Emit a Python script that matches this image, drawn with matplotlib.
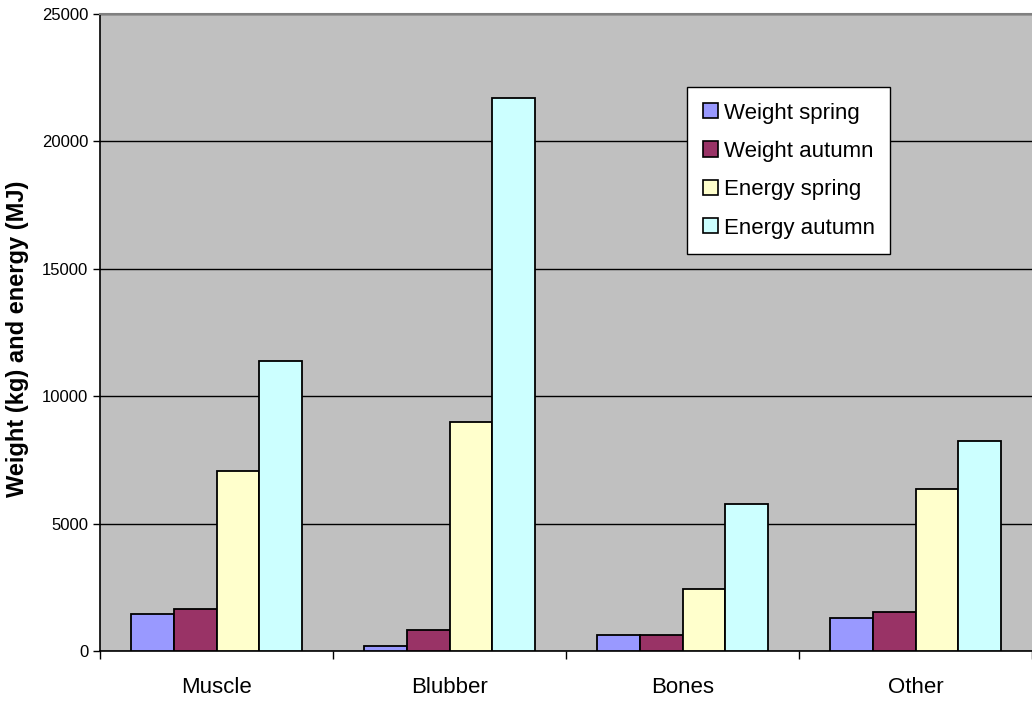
import numpy as np
import matplotlib
matplotlib.use("Agg")
import matplotlib.pyplot as plt

plt.rcParams["font.family"] = ["Liberation Sans", "DejaVu Sans"]

tissues = ["Muscle", "Blubber", "Bones", "Other"]
weight_spring = [1450, 210, 620, 1280]
weight_autumn = [1630, 820, 620, 1520]
energy_spring = [7070, 8970, 2420, 6350]
energy_autumn = [11390, 21700, 5760, 8260]

series = [
    ("Weight spring", weight_spring, "#9999FF"),
    ("Weight autumn", weight_autumn, "#993366"),
    ("Energy spring", energy_spring, "#FFFFCC"),
    ("Energy autumn", energy_autumn, "#CCFFFF"),
]

fig = plt.figure(figsize=(10.32, 7.02), dpi=100)
ax = fig.add_axes([100 / 1032, 51 / 702, 932 / 1032, 637 / 702])
ax.set_facecolor("#C0C0C0")

x = np.arange(len(tissues))
w = 0.183
for i, (name, vals, col) in enumerate(series):
    ax.bar(x + (i - 1.5) * w, vals, w, color=col, edgecolor="black",
           linewidth=1.3, label=name, zorder=3)

ax.set_xlim(-0.5, len(tissues) - 0.5)
ax.set_ylim(0, 25000)
ax.set_yticks(range(0, 25001, 5000))
ax.yaxis.grid(True, color="black", linewidth=1.0, zorder=1)

ax.set_xticks(x)
ax.set_xticklabels(tissues, fontsize=16)
ax.set_xticks(np.arange(-0.5, len(tissues)), minor=True)
ax.tick_params(axis="x", which="major", length=0, pad=19)
ax.tick_params(axis="x", which="minor", length=6, width=1, direction="out")
ax.tick_params(axis="y", labelsize=12, length=5, width=1, direction="out")

ax.set_ylabel("Weight (kg) and energy (MJ)", fontsize=17, fontweight="bold")
ax.yaxis.set_label_coords(-0.076, 0.49)

for s in ("left", "bottom"):
    ax.spines[s].set_color("black")
    ax.spines[s].set_linewidth(1.2)
ax.spines["top"].set_color("#808080")
ax.spines["top"].set_linewidth(1.5)
ax.spines["right"].set_visible(False)

leg = ax.legend(loc="upper left", bbox_to_anchor=(587 / 932, 1 - 73 / 637),
                borderaxespad=0, fontsize=16, frameon=True, fancybox=False,
                edgecolor="black", framealpha=1, handlelength=0.68,
                handleheight=0.68, handletextpad=0.27, labelspacing=0.78,
                borderpad=0.7)
leg.get_frame().set_linewidth(1.0)
for h in leg.legend_handles:
    h.set_linewidth(1.2)

fig.savefig("out.png", dpi=100)
